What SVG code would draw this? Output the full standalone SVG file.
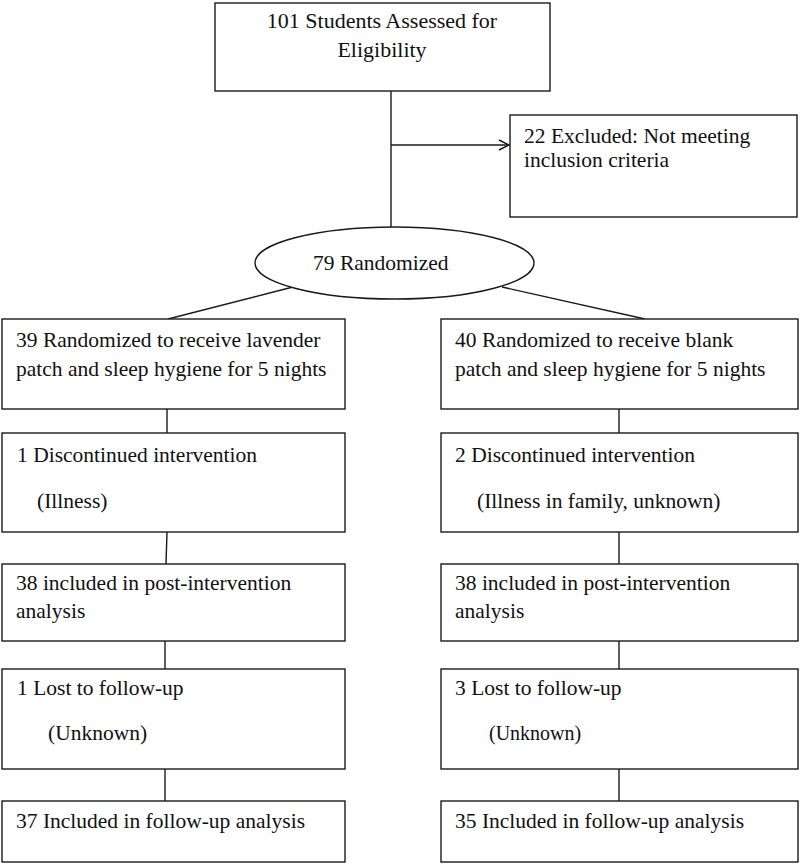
<svg xmlns="http://www.w3.org/2000/svg" width="800" height="864" viewBox="0 0 800 864">
<style>
  .box { fill: #fff; stroke: #1a1a1a; stroke-width: 1.4; }
  .ln { fill: none; stroke: #1a1a1a; stroke-width: 1.4; }
  text { font-family: 'Liberation Serif', Tinos, 'Times New Roman', Times, 'DejaVu Serif', serif; font-size: 21.5px; fill: #111; }
  .c { text-anchor: middle; }
</style>
<defs>
  <marker id="arr" viewBox="0 0 12 12" refX="11" refY="6" markerWidth="12" markerHeight="12" markerUnits="userSpaceOnUse" orient="auto">
    <path d="M1,1 L11,6 L1,11" fill="none" stroke="#1a1a1a" stroke-width="1.4"/>
  </marker>
</defs>
<rect width="800" height="864" fill="#fff"/>
<g id="connectors">
  <line class="ln" x1="391" y1="91" x2="391" y2="227"/>
  <line class="ln" x1="391" y1="145" x2="509" y2="145" marker-end="url(#arr)"/>
  <line class="ln" x1="293" y1="287" x2="168" y2="319"/>
  <line class="ln" x1="502" y1="287" x2="645" y2="319"/>
  <line class="ln" x1="167" y1="409" x2="167" y2="433"/>
  <line class="ln" x1="167" y1="532" x2="166" y2="564"/>
  <line class="ln" x1="165" y1="641" x2="165" y2="669"/>
  <line class="ln" x1="165" y1="769" x2="165" y2="801"/>
  <line class="ln" x1="619" y1="409" x2="619" y2="433"/>
  <line class="ln" x1="619" y1="532" x2="619" y2="564"/>
  <line class="ln" x1="619" y1="641" x2="619" y2="669"/>
  <line class="ln" x1="619" y1="769" x2="619" y2="801"/>
</g>
<g id="assessed">
  <rect class="box" x="215" y="3" width="335" height="88"/>
  <text class="c" x="382" y="28" style="font-size:22px">101 Students Assessed for</text>
  <text class="c" x="382" y="57" style="font-size:22px">Eligibility</text>
</g>
<g id="excluded">
  <rect class="box" x="510" y="115" width="287" height="102"/>
  <text x="524" y="143">22 Excluded: Not meeting</text>
  <text x="524" y="167">inclusion criteria</text>
</g>
<g id="randomized">
  <ellipse class="box" cx="394.5" cy="263" rx="139.5" ry="36"/>
  <text x="313" y="270">79 Randomized</text>
</g>
<g id="lav-alloc">
  <rect class="box" x="2" y="319" width="343" height="90"/>
  <text x="16" y="347">39 Randomized to receive lavender</text>
  <text x="16" y="376">patch and sleep hygiene for 5 nights</text>
</g>
<g id="blank-alloc">
  <rect class="box" x="441" y="319" width="357" height="90"/>
  <text x="455" y="347">40 Randomized to receive blank</text>
  <text x="455" y="376">patch and sleep hygiene for 5 nights</text>
</g>
<g id="lav-disc">
  <rect class="box" x="2" y="433" width="343" height="99"/>
  <text x="17" y="462">1 Discontinued intervention</text>
  <text x="37" y="508">(Illness)</text>
</g>
<g id="blank-disc">
  <rect class="box" x="441" y="433" width="357" height="99"/>
  <text x="455" y="462">2 Discontinued intervention</text>
  <text x="477" y="508">(Illness in family, unknown)</text>
</g>
<g id="lav-post">
  <rect class="box" x="2" y="564" width="343" height="77"/>
  <text x="16" y="590">38 included in post-intervention</text>
  <text x="16" y="618">analysis</text>
</g>
<g id="blank-post">
  <rect class="box" x="441" y="564" width="357" height="77"/>
  <text x="455" y="590">38 included in post-intervention</text>
  <text x="455" y="618">analysis</text>
</g>
<g id="lav-lost">
  <rect class="box" x="2" y="669" width="343" height="100"/>
  <text x="17" y="695">1 Lost to follow-up</text>
  <text x="48" y="740">(Unknown)</text>
</g>
<g id="blank-lost">
  <rect class="box" x="441" y="669" width="357" height="100"/>
  <text x="455" y="695">3 Lost to follow-up</text>
  <text x="489" y="740" style="font-size:20px">(Unknown)</text>
</g>
<g id="lav-fu">
  <rect class="box" x="2" y="801" width="343" height="61"/>
  <text x="16" y="828">37 Included in follow-up analysis</text>
</g>
<g id="blank-fu">
  <rect class="box" x="441" y="801" width="357" height="61"/>
  <text x="455" y="828">35 Included in follow-up analysis</text>
</g>
</svg>
